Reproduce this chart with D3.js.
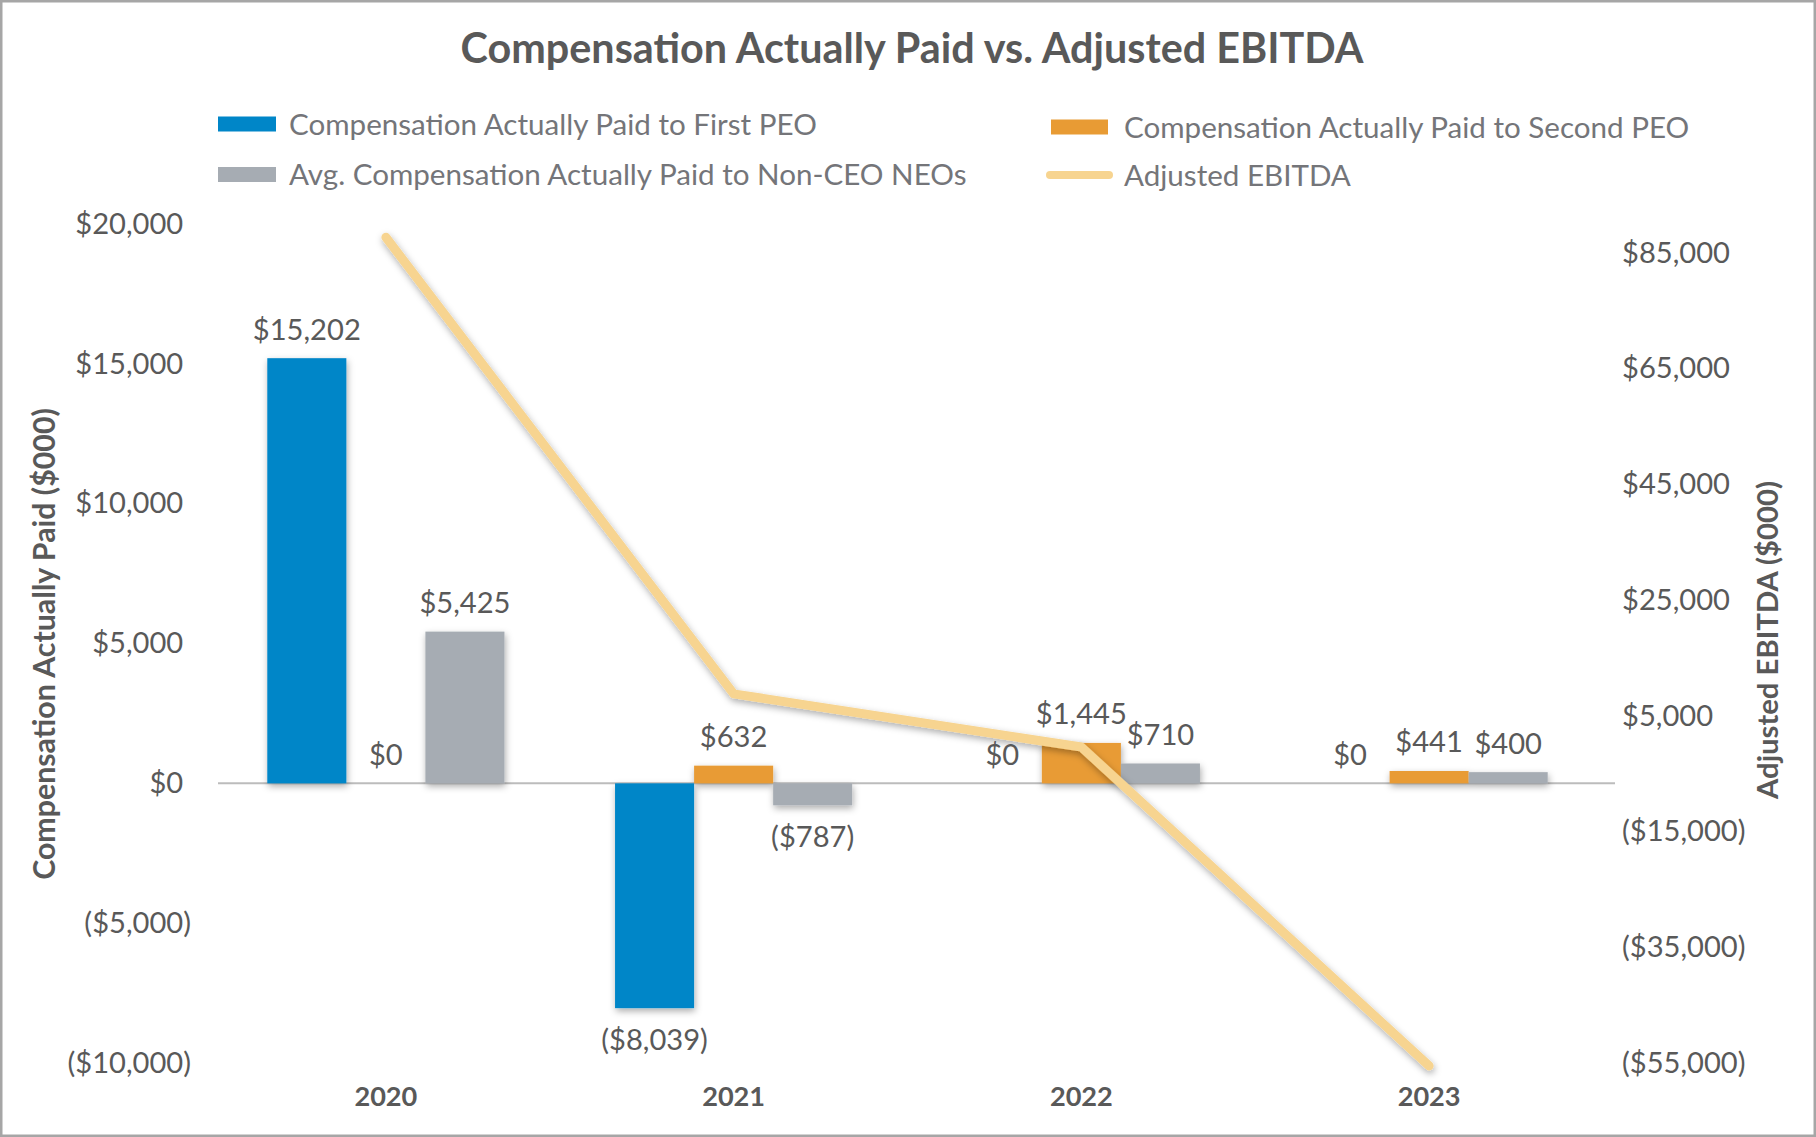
<!DOCTYPE html>
<html>
<head>
<meta charset="utf-8">
<script src="https://cdn.jsdelivr.net/npm/d3@7"></script>
<style>
  html, body { margin: 0; padding: 0; background: #fff; }
  svg { display: block; }
</style>
</head>
<body>
<script>
// ---------- DATA ----------
const years = ["2020", "2021", "2022", "2023"];
const seriesNames = [
  "Compensation Actually Paid to First PEO",
  "Compensation Actually Paid to Second PEO",
  "Avg. Compensation Actually Paid to Non-CEO NEOs"
];
const lineName = "Adjusted EBITDA";
const firstPEO  = [15202, -8039, 0, 0];
const secondPEO = [0, 632, 1445, 441];
const nonCEO    = [5425, -787, 710, 400];
const ebitda    = [87700, 8800, -400, -55500];
const leftTicks  = [-10000, -5000, 0, 5000, 10000, 15000, 20000];
const rightTicks = [-55000, -35000, -15000, 5000, 25000, 45000, 65000, 85000];
const titleText = "Compensation Actually Paid vs. Adjusted EBITDA";
const leftTitle = "Compensation Actually Paid ($000)";
const rightTitle = "Adjusted EBITDA ($000)";

// ---------- SETUP ----------
const W = 1816, H = 1137;
const FONT = "Lato, 'Open Sans', 'Noto Sans', sans-serif";
const colors = ["#0086C8", "#E89B34", "#A6ACB3"];
const lineColor = "#F7D490";
const textDark = "#595959";
const textLegend = "#747579";

const svg = d3.select("body").append("svg").attr("width", W).attr("height", H);

const defs = svg.append("defs");
const f = defs.append("filter").attr("id", "shadow")
  .attr("x", "-30%").attr("y", "-30%").attr("width", "160%").attr("height", "160%");
f.append("feDropShadow").attr("dx", 1).attr("dy", 3).attr("stdDeviation", 3.5)
  .attr("flood-color", "#000").attr("flood-opacity", 0.33);

svg.append("rect").attr("x", 0).attr("y", 0).attr("width", W).attr("height", H).attr("fill", "#fff");

function fitSize(str, weight, target) {
  const t = svg.append("text").attr("font-family", FONT).attr("font-weight", weight)
    .attr("font-size", 100).text(str);
  const w = t.node().getComputedTextLength();
  t.remove();
  return 100 * target / w;
}

const titleSize  = fitSize(titleText, 700, 903);
const legendSize = fitSize(seriesNames[0], 400, 528);
const tickSize   = fitSize("$20,000", 400, 108);
const catSize    = fitSize("2023", 700, 63);
const lTitleSize = fitSize(leftTitle, 700, 472);
const rTitleSize = fitSize(rightTitle, 700, 318);

// ---------- SCALES ----------
const x = d3.scaleBand().domain(years).range([212, 1603]).padding(0);
const groupW = x.bandwidth() * 0.682;
const xs = d3.scaleBand().domain(seriesNames).range([0, groupW]).padding(0);
const yL = d3.scaleLinear().domain([-10000, 20000]).range([1063, 224]);
const yR = d3.scaleLinear().domain([-55000, 90000]).range([1063, 224]);

const fmtNum = d3.format(",");
const fmt = v => v < 0 ? "($" + fmtNum(-v) + ")" : "$" + fmtNum(v);

// ---------- TITLE ----------
svg.append("text").attr("x", 912).attr("y", 48.5).attr("dy", "0.36em")
  .attr("text-anchor", "middle").attr("font-family", FONT).attr("font-weight", 700)
  .attr("font-size", titleSize).attr("fill", textDark).text(titleText);

// ---------- LEGEND ----------
const legendItems = [
  { name: seriesNames[0], type: "rect", color: colors[0], sx: 218, sw: 58, cy: 124, tx: 289 },
  { name: seriesNames[2], type: "rect", color: colors[2], sx: 218, sw: 58, cy: 174.5, tx: 289 },
  { name: seriesNames[1], type: "rect", color: colors[1], sx: 1051, sw: 57, cy: 127, tx: 1124 },
  { name: lineName, type: "line", color: lineColor, sx: 1050, sw: 59, cy: 175, tx: 1124 }
];
const lg = svg.append("g");
legendItems.forEach(it => {
  if (it.type === "rect") {
    lg.append("rect").attr("x", it.sx).attr("y", it.cy - 7.5).attr("width", it.sw).attr("height", 15)
      .attr("fill", it.color);
  } else {
    lg.append("line").attr("x1", it.sx).attr("x2", it.sx + it.sw).attr("y1", it.cy).attr("y2", it.cy)
      .attr("stroke", it.color).attr("stroke-width", 8).attr("stroke-linecap", "round");
  }
  lg.append("text").attr("x", it.tx).attr("y", it.cy).attr("dy", "0.36em")
    .attr("font-family", FONT).attr("font-size", legendSize).attr("fill", textLegend).text(it.name);
});

// ---------- AXES ----------
const axL = svg.append("g").attr("transform", "translate(218,0)")
  .call(d3.axisLeft(yL).tickValues(leftTicks).tickSize(0).tickPadding(27).tickFormat(fmt));
axL.select(".domain").remove();
axL.selectAll("text").attr("font-family", FONT).attr("font-size", tickSize).attr("fill", textDark)
  .each(function(d) {
    if (d >= 0) {
      d3.select(this).append("tspan").attr("fill-opacity", 0).text(")");
    }
  });

const axR = svg.append("g").attr("transform", "translate(1615,0)")
  .call(d3.axisRight(yR).tickValues(rightTicks).tickSize(0).tickPadding(7).tickFormat(fmt));
axR.select(".domain").remove();
axR.selectAll("text").attr("font-family", FONT).attr("font-size", tickSize).attr("fill", textDark);

// zero line
svg.append("line").attr("x1", x.range()[0] + 6).attr("x2", x.range()[1] + 12)
  .attr("y1", yL(0)).attr("y2", yL(0)).attr("stroke", "#BCBCBC").attr("stroke-width", 2);

// category labels
const axX = svg.append("g").attr("transform", "translate(0,1096)")
  .call(d3.axisBottom(x).tickSize(0).tickPadding(0));
axX.select(".domain").remove();
axX.selectAll("text").attr("dy", "0.36em").attr("font-family", FONT).attr("font-weight", 700)
  .attr("font-size", catSize).attr("fill", textDark);

// axis titles
svg.append("text").attr("transform", "translate(44.5,644) rotate(-90)").attr("dy", "0.36em")
  .attr("text-anchor", "middle").attr("font-family", FONT).attr("font-weight", 700)
  .attr("font-size", lTitleSize).attr("fill", textDark).text(leftTitle);
svg.append("text").attr("transform", "translate(1767,640) rotate(-90)").attr("dy", "0.36em")
  .attr("text-anchor", "middle").attr("font-family", FONT).attr("font-weight", 700)
  .attr("font-size", rTitleSize).attr("fill", textDark).text(rightTitle);

// ---------- BARS ----------
const seriesVals = [firstPEO, secondPEO, nonCEO];
const barData = [];
years.forEach((yr, i) => {
  seriesNames.forEach((s, j) => {
    barData.push({ year: yr, series: s, idx: j, value: seriesVals[j][i] });
  });
});
const bx = d => x(d.year) + x.bandwidth() / 2 - groupW / 2 + xs(d.series);

svg.append("g").attr("filter", "url(#shadow)")
  .selectAll("rect").data(barData.filter(d => d.value !== 0)).join("rect")
  .attr("x", d => bx(d))
  .attr("width", xs.bandwidth())
  .attr("y", d => Math.min(yL(d.value), yL(0)))
  .attr("height", d => Math.abs(yL(d.value) - yL(0)))
  .attr("fill", d => colors[d.idx]);

// ---------- LINE ----------
const lineGen = d3.line().x((d, i) => x(years[i]) + x.bandwidth() / 2).y(d => yR(d));
svg.append("path").datum(ebitda).attr("d", lineGen)
  .attr("fill", "none").attr("stroke", lineColor).attr("stroke-width", 9)
  .attr("stroke-linejoin", "round").attr("stroke-linecap", "round")
  .attr("filter", "url(#shadow)");

// ---------- DATA LABELS ----------
svg.append("g").selectAll("text").data(barData).join("text")
  .attr("x", d => bx(d) + xs.bandwidth() / 2)
  .attr("y", d => d.value < 0 ? yL(d.value) + 31 : yL(d.value) - 29)
  .attr("dy", "0.36em")
  .attr("text-anchor", "middle").attr("font-family", FONT).attr("font-size", tickSize)
  .attr("fill", textDark).text(d => fmt(d.value));

// ---------- BORDER ----------
svg.append("rect").attr("x", 1.25).attr("y", 1.25).attr("width", W - 2.5).attr("height", H - 2.5)
  .attr("fill", "none").attr("stroke", "#A6A6A6").attr("stroke-width", 2.5);
</script>
</body>
</html>
